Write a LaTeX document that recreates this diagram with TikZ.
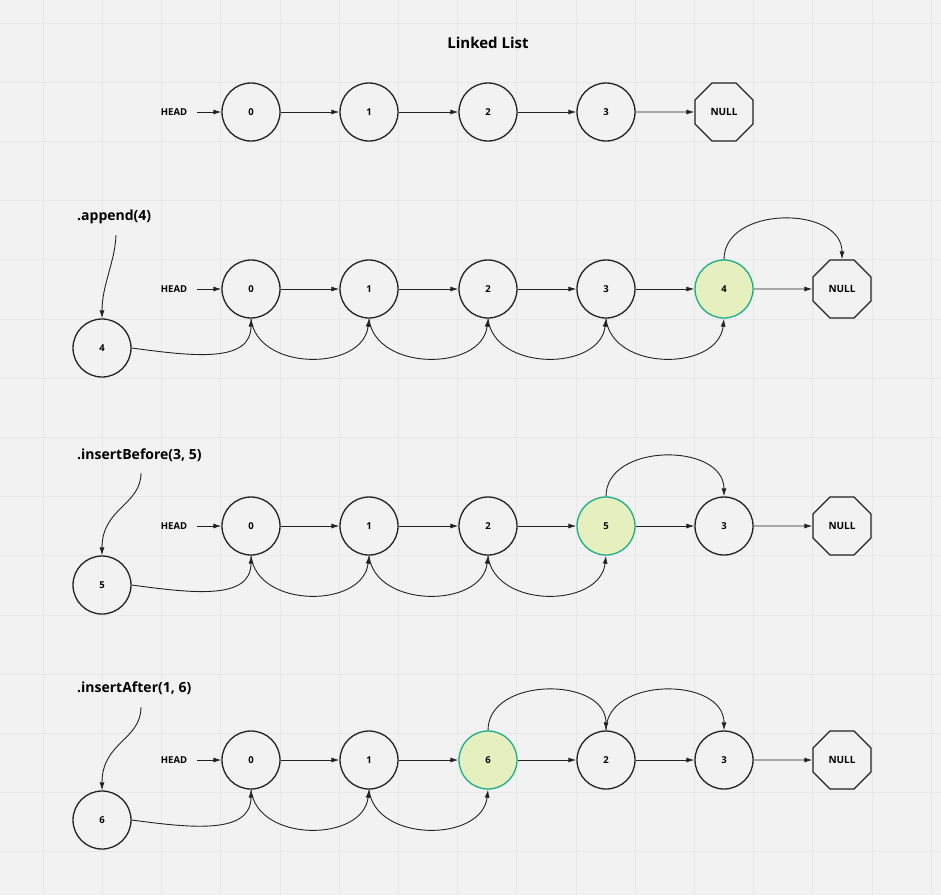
\documentclass[tikz,border=0pt]{standalone}
\usepackage{fontspec}
\setmainfont{Open Sans}
\usetikzlibrary{shapes.geometric,arrows.meta}
\definecolor{paper}{HTML}{F2F2F2}
\definecolor{gridcol}{HTML}{E8E8E8}
\definecolor{newfill}{HTML}{E6EFBE}
\definecolor{newedge}{HTML}{1AAE88}
\definecolor{ink}{HTML}{222222}

\tikzset{
  gridline/.style={gridcol,line width=1pt},
  elem/.style={circle,draw=ink,line width=1.3pt,minimum size=58pt,inner sep=0pt,
    font=\fontsize{9.5}{10}\selectfont\bfseries},
  newelem/.style={elem,draw=newedge,fill=newfill},
  nullbox/.style={regular polygon,regular polygon sides=8,draw=ink,line width=1.3pt,
    minimum size=62.8pt,inner sep=0pt,font=\fontsize{10}{12}\selectfont\bfseries},
  headlbl/.style={inner sep=0pt,font=\fontsize{9.5}{10}\selectfont\bfseries},
  calllbl/.style={anchor=west,inner sep=0pt,font=\fontsize{14}{16}\selectfont\bfseries},
  titlelbl/.style={font=\fontsize{15}{17}\selectfont\bfseries},
  link/.style={ink,line width=0.9pt,-{Latex[length=8pt,width=5pt]}}
}

\begin{document}
\begin{tikzpicture}[x=1pt,y=-1pt]
  \fill[paper] (0,0) rectangle (941,895);
  \useasboundingbox (0,0) rectangle (941,895);
  \foreach \g in {0,...,15} \draw[gridline] ({43.2+59.2*\g},0) -- ({43.2+59.2*\g},895);
  \foreach \g in {0,...,15} \draw[gridline] (0,{23+59.2*\g}) -- (941,{23+59.2*\g});

  \node[titlelbl] (title) at (488,43) {Linked List};

  % row 1: the list
  \node[headlbl] (r1head) at (174,112) {HEAD};
  \node[elem] (r1a) at (251,112) {0};
  \node[elem] (r1b) at (369,112) {1};
  \node[elem] (r1c) at (488,112) {2};
  \node[elem] (r1d) at (606,112) {3};
  \node[nullbox] (r1null) at (724,112) {NULL};
  \draw[link] ([xshift=10pt]r1head.east) -- (r1a);
  \draw[link] (r1a) -- (r1b);
  \draw[link] (r1b) -- (r1c);
  \draw[link] (r1c) -- (r1d);
  \draw[link] (r1d) -- (r1null);

  % row 2: append
  \node[calllbl] (r2call) at (77,217) {.append(4)};
  \coordinate (r2from) at (116,235);
  \node[elem] (r2new) at (102,348) {4};
  \node[headlbl] (r2head) at (174,289) {HEAD};
  \node[elem] (r2a) at (251,289) {0};
  \node[elem] (r2b) at (369,289) {1};
  \node[elem] (r2c) at (488,289) {2};
  \node[elem] (r2d) at (606,289) {3};
  \node[newelem] (r2e) at (724,289) {4};
  \node[nullbox] (r2null) at (842,289) {NULL};
  \draw[link] (r2from) .. controls (115,262) and (102,285) .. (r2new.north);
  \draw[link] ([xshift=10pt]r2head.east) -- (r2a);
  \draw[link] (r2a) -- (r2b);
  \draw[link] (r2b) -- (r2c);
  \draw[link] (r2c) -- (r2d);
  \draw[link] (r2d) -- (r2e);
  \draw[link] (r2e) -- (r2null);
  \draw[link] (r2new.east) .. controls +(60,8) and +(0,45) .. (r2a.south);
  \draw[link] (r2a.south) .. controls +(6,53) and +(-6,53) .. (r2b.south);
  \draw[link] (r2b.south) .. controls +(6,53) and +(-6,53) .. (r2c.south);
  \draw[link] (r2c.south) .. controls +(6,53) and +(-6,53) .. (r2d.south);
  \draw[link] (r2d.south) .. controls +(6,53) and +(-6,53) .. (r2e.south);
  \draw[link] (r2e.north) .. controls +(0,-54) and +(0,-54) .. (r2null.north);

  % row 3: insertBefore
  \node[calllbl] (r3call) at (77,455) {.insertBefore(3, 5)};
  \coordinate (r3from) at (141,473);
  \node[elem] (r3new) at (102,585) {5};
  \node[headlbl] (r3head) at (174,526) {HEAD};
  \node[elem] (r3a) at (251,526) {0};
  \node[elem] (r3b) at (369,526) {1};
  \node[elem] (r3c) at (488,526) {2};
  \node[newelem] (r3e) at (606,526) {5};
  \node[elem] (r3d) at (724,526) {3};
  \node[nullbox] (r3null) at (842,526) {NULL};
  \draw[link] (r3from) .. controls (141,505) and (102,508) .. (r3new.north);
  \draw[link] ([xshift=10pt]r3head.east) -- (r3a);
  \draw[link] (r3a) -- (r3b);
  \draw[link] (r3b) -- (r3c);
  \draw[link] (r3c) -- (r3e);
  \draw[link] (r3e) -- (r3d);
  \draw[link] (r3d) -- (r3null);
  \draw[link] (r3new.east) .. controls +(60,8) and +(0,45) .. (r3a.south);
  \draw[link] (r3a.south) .. controls +(6,53) and +(-6,53) .. (r3b.south);
  \draw[link] (r3b.south) .. controls +(6,53) and +(-6,53) .. (r3c.south);
  \draw[link] (r3c.south) .. controls +(6,53) and +(-6,53) .. (r3e.south);
  \draw[link] (r3e.north) .. controls +(0,-54) and +(0,-54) .. (r3d.north);

  % row 4: insertAfter
  \node[calllbl] (r4call) at (77,688) {.insertAfter(1, 6)};
  \coordinate (r4from) at (141,707);
  \node[elem] (r4new) at (102,820) {6};
  \node[headlbl] (r4head) at (174,760) {HEAD};
  \node[elem] (r4a) at (251,760) {0};
  \node[elem] (r4b) at (369,760) {1};
  \node[newelem] (r4e) at (488,760) {6};
  \node[elem] (r4c) at (606,760) {2};
  \node[elem] (r4d) at (724,760) {3};
  \node[nullbox] (r4null) at (842,760) {NULL};
  \draw[link] (r4from) .. controls (141,740) and (102,742) .. (r4new.north);
  \draw[link] ([xshift=10pt]r4head.east) -- (r4a);
  \draw[link] (r4a) -- (r4b);
  \draw[link] (r4b) -- (r4e);
  \draw[link] (r4e) -- (r4c);
  \draw[link] (r4c) -- (r4d);
  \draw[link] (r4d) -- (r4null);
  \draw[link] (r4new.east) .. controls +(60,8) and +(0,45) .. (r4a.south);
  \draw[link] (r4a.south) .. controls +(6,53) and +(-6,53) .. (r4b.south);
  \draw[link] (r4b.south) .. controls +(6,53) and +(-6,53) .. (r4e.south);
  \draw[link] (r4e.north) .. controls +(0,-54) and +(0,-54) .. (r4c.north);
  \draw[link] (r4c.north) .. controls +(0,-54) and +(0,-54) .. (r4d.north);
\end{tikzpicture}
\end{document}
